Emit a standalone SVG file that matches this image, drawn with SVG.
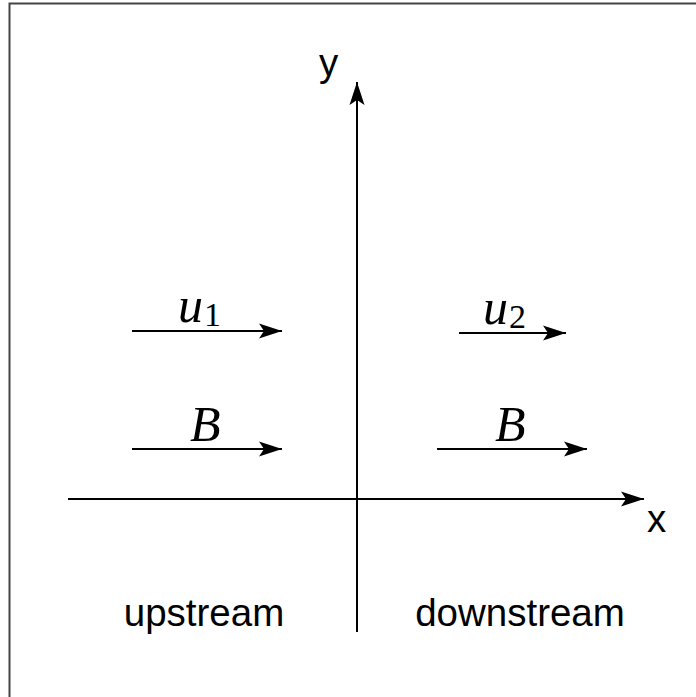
<svg xmlns="http://www.w3.org/2000/svg" width="696" height="697" viewBox="0 0 696 697">
<style>
.ln{stroke:#000;stroke-width:2;fill:none}
.lab{font-family:"Liberation Sans",Arial,sans-serif;font-size:38.5px;fill:#000}
.math{font-family:"Liberation Serif","Times New Roman",serif;font-style:italic;fill:#000}
.sub{font-family:"Liberation Serif","Times New Roman",serif;fill:#000}
</style>
<defs>
<marker id="ah" markerWidth="26" markerHeight="18" refX="23" refY="9" orient="auto" markerUnits="userSpaceOnUse">
<path d="M0,1.5 L23,9 L0,16.5 L5,9 Z" fill="#000"/>
</marker>
</defs>
<rect x="9.5" y="3.5" width="700" height="700" fill="#fff" stroke="#444" stroke-width="2"/>
<g id="connectors">
<line class="ln" x1="357" y1="632" x2="357" y2="82" marker-end="url(#ah)"/>
<line class="ln" x1="68" y1="499" x2="644" y2="499" marker-end="url(#ah)"/>
<line class="ln" x1="132" y1="331" x2="282" y2="331" marker-end="url(#ah)"/>
<line class="ln" x1="459" y1="333" x2="566" y2="333" marker-end="url(#ah)"/>
<line class="ln" x1="132" y1="449" x2="282" y2="449" marker-end="url(#ah)"/>
<line class="ln" x1="437" y1="449" x2="587" y2="449" marker-end="url(#ah)"/>
</g>
<g id="label-y"><text class="lab" x="319" y="76" font-size="40">y</text></g>
<g id="label-x"><text class="lab" x="647" y="532" font-size="40">x</text></g>
<g id="label-u1"><text class="math" x="178" y="322" font-size="50">u</text><text class="sub" x="204" y="326" font-size="34">1</text></g>
<g id="label-u2"><text class="math" x="483" y="324" font-size="50">u</text><text class="sub" x="509" y="328" font-size="34">2</text></g>
<g id="label-B1"><text class="math" x="190" y="441" font-size="50">B</text></g>
<g id="label-B2"><text class="math" x="495" y="441" font-size="50">B</text></g>
<g id="label-upstream"><text class="lab" x="204" y="626" text-anchor="middle">upstream</text></g>
<g id="label-downstream"><text class="lab" x="520" y="626" text-anchor="middle">downstream</text></g>
</svg>
